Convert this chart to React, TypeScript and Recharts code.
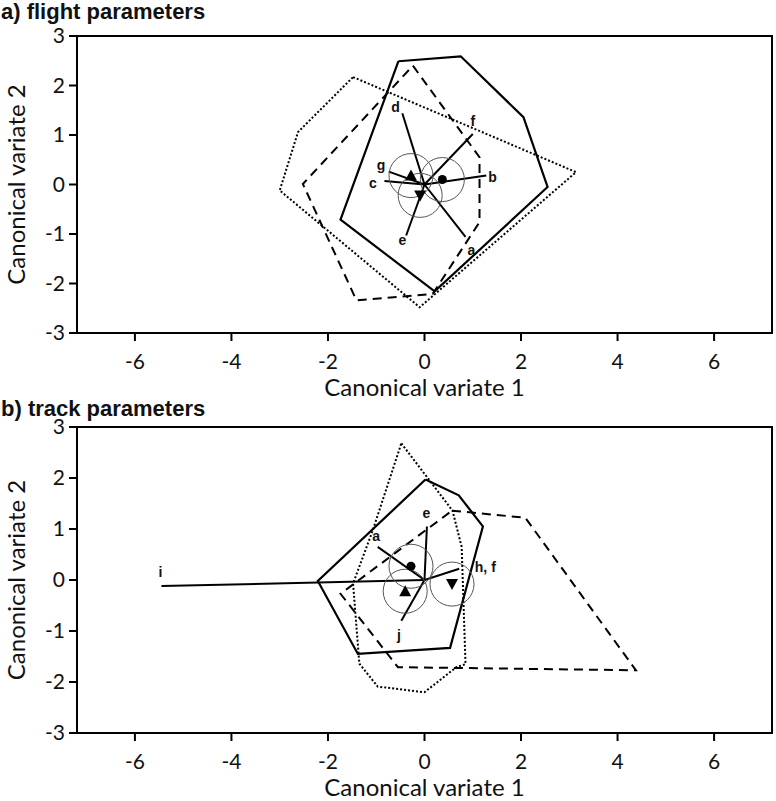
import React from "react";
import {
  ScatterChart,
  Scatter,
  XAxis,
  YAxis,
  ReferenceArea,
  ReferenceDot,
  ReferenceLine,
} from "recharts";

type Pt = { x: number; y: number };
type Lbl = { name: string; x: number; y: number };

const xTicks = [-6, -4, -2, 0, 2, 4, 6];
const yTicks = [-3, -2, -1, 0, 1, 2, 3];

// a) flight parameters
const flightSolid: Pt[] = [
  { x: -0.54, y: 2.49 },
  { x: 0.75, y: 2.59 },
  { x: 2.05, y: 1.36 },
  { x: 2.55, y: -0.05 },
  { x: 0.21, y: -2.16 },
  { x: -1.74, y: -0.71 },
];
const flightDashed: Pt[] = [
  { x: -0.24, y: 2.4 },
  { x: 1.14, y: 0.55 },
  { x: 1.14, y: -0.76 },
  { x: 0.17, y: -2.21 },
  { x: -1.41, y: -2.34 },
  { x: -2.52, y: 0.01 },
];
const flightDotted: Pt[] = [
  { x: -1.48, y: 2.17 },
  { x: 3.14, y: 0.25 },
  { x: -0.1, y: -2.48 },
  { x: -3.0, y: -0.12 },
  { x: -2.62, y: 1.06 },
];
const flightVectors: Pt[] = [
  { x: 0.85, y: -1.06 }, // a
  { x: 1.28, y: 0.18 }, // b
  { x: -0.83, y: 0.07 }, // c
  { x: -0.46, y: 1.44 }, // d
  { x: -0.38, y: -1.03 }, // e
  { x: 1.0, y: 1.02 }, // f
  { x: -0.74, y: 0.26 }, // g
];
const flightLabels: Lbl[] = [
  { name: "a", x: 0.97, y: -1.33 },
  { name: "b", x: 1.41, y: 0.16 },
  { name: "c", x: -1.07, y: 0.03 },
  { name: "d", x: -0.6, y: 1.56 },
  { name: "e", x: -0.46, y: -1.13 },
  { name: "f", x: 1.0, y: 1.29 },
  { name: "g", x: -0.9, y: 0.4 },
];
const flightCircle: Pt = { x: 0.37, y: 0.1 };
const flightUp: Pt = { x: -0.28, y: 0.18 };
const flightDown: Pt = { x: -0.09, y: -0.22 };

// b) track parameters
const trackSolid: Pt[] = [
  { x: 0.02, y: 1.97 },
  { x: 0.71, y: 1.66 },
  { x: 1.21, y: 1.05 },
  { x: 0.53, y: -1.33 },
  { x: -1.38, y: -1.45 },
  { x: -2.21, y: -0.02 },
];
const trackDashed: Pt[] = [
  { x: 0.57, y: 1.36 },
  { x: 2.09, y: 1.22 },
  { x: 4.38, y: -1.77 },
  { x: -0.55, y: -1.71 },
  { x: -1.74, y: -0.27 },
];
const trackDotted: Pt[] = [
  { x: -0.48, y: 2.68 },
  { x: 0.58, y: 1.36 },
  { x: 0.77, y: 0.65 },
  { x: 0.85, y: -1.65 },
  { x: 0.66, y: -1.71 },
  { x: 0.0, y: -2.2 },
  { x: -0.97, y: -2.09 },
  { x: -1.35, y: -1.64 },
  { x: -1.48, y: -0.07 },
  { x: -1.07, y: 0.98 },
];
const trackVectors: Pt[] = [
  { x: -0.97, y: 0.65 }, // a
  { x: 0.05, y: 1.05 }, // e
  { x: 0.72, y: 0.22 }, // h, f
  { x: -5.45, y: -0.12 }, // i
  { x: -0.48, y: -0.8 }, // j
];
const trackLabels: Lbl[] = [
  { name: "a", x: -1.0, y: 0.86 },
  { name: "e", x: 0.04, y: 1.32 },
  { name: "h, f", x: 1.26, y: 0.26 },
  { name: "i", x: -5.47, y: 0.16 },
  { name: "j", x: -0.53, y: -1.07 },
];
const trackCircle: Pt = { x: -0.28, y: 0.27 };
const trackUp: Pt = { x: -0.4, y: -0.22 };
const trackDown: Pt = { x: 0.57, y: -0.08 };

const font = "Lato, 'Open Sans', sans-serif";
const none = () => <g />;

const close = (pts: Pt[]) => [...pts, pts[0]];

function Panel({
  solid,
  dashed,
  dotted,
  vectors,
  labels,
  circle,
  up,
  down,
  top,
}: {
  solid: Pt[];
  dashed: Pt[];
  dotted: Pt[];
  vectors: Pt[];
  labels: Lbl[];
  circle: Pt;
  up: Pt;
  down: Pt;
  top: number;
}) {
  const centroids = [circle, up, down];
  return (
    <ScatterChart
      width={776}
      height={400}
      margin={{ top, right: 4, bottom: 0, left: 0 }}
    >
      <XAxis
        type="number"
        dataKey="x"
        domain={[-7.2, 7.2]}
        ticks={xTicks}
        allowDataOverflow
        height={67}
        tickSize={8}
        tickMargin={13}
        tick={{ fontSize: 21, fill: "#111", fontFamily: font }}
        axisLine={{ stroke: "#000", strokeWidth: 2 }}
        tickLine={{ stroke: "#000", strokeWidth: 2 }}
        label={{
          content: (p: any) => (
            <text
              x={p.viewBox.x + p.viewBox.width / 2}
              y={p.viewBox.y + 53}
              textAnchor="middle"
              dominantBaseline="central"
              fontSize={24}
              fontFamily={font}
              fill="#111"
            >
              Canonical variate 1
            </text>
          ),
        }}
      />
      <YAxis
        type="number"
        dataKey="y"
        domain={[-3, 3]}
        ticks={yTicks}
        allowDataOverflow
        width={77}
        tickSize={8}
        tickMargin={4}
        tick={{ fontSize: 21, fill: "#111", fontFamily: font }}
        axisLine={{ stroke: "#000", strokeWidth: 2 }}
        tickLine={{ stroke: "#000", strokeWidth: 2 }}
        label={{
          content: (p: any) => {
            const cx = p.viewBox.x + 15;
            const cy = p.viewBox.y + p.viewBox.height / 2;
            return (
              <text
                x={cx}
                y={cy}
                transform={`rotate(-90 ${cx} ${cy})`}
                textAnchor="middle"
                dominantBaseline="central"
                fontSize={24}
                fontFamily={font}
                fill="#111"
              >
                Canonical variate 2
              </text>
            );
          },
        }}
      />
      <ReferenceArea
        x1={-7.2}
        x2={7.2}
        y1={-3}
        y2={3}
        fill="none"
        stroke="#000"
        strokeWidth={2}
      />
      <Scatter
        data={close(dotted)}
        line={{ stroke: "#000", strokeWidth: 2, strokeDasharray: "2 2" }}
        shape={none}
        isAnimationActive={false}
      />
      <Scatter
        data={close(dashed)}
        line={{ stroke: "#000", strokeWidth: 2, strokeDasharray: "9 6" }}
        shape={none}
        isAnimationActive={false}
      />
      <Scatter
        data={close(solid)}
        line={{ stroke: "#000", strokeWidth: 2.2 }}
        shape={none}
        isAnimationActive={false}
      />
      {centroids.map((c, i) => (
        <ReferenceDot
          key={"ci" + i}
          x={c.x}
          y={c.y}
          r={22}
          fill="none"
          stroke="#555"
          strokeWidth={1}
        />
      ))}
      {vectors.map((v, i) => (
        <ReferenceLine
          key={"v" + i}
          segment={[
            { x: 0, y: 0 },
            { x: v.x, y: v.y },
          ]}
          stroke="#000"
          strokeWidth={2}
        />
      ))}
      <Scatter
        data={[circle]}
        isAnimationActive={false}
        shape={(p: any) => <circle cx={p.cx} cy={p.cy} r={4.5} fill="#000" />}
      />
      <Scatter
        data={[up]}
        isAnimationActive={false}
        shape={(p: any) => (
          <polygon
            points={`${p.cx},${p.cy - 6} ${p.cx + 6},${p.cy + 5} ${p.cx - 6},${p.cy + 5}`}
            fill="#000"
          />
        )}
      />
      <Scatter
        data={[down]}
        isAnimationActive={false}
        shape={(p: any) => (
          <polygon
            points={`${p.cx},${p.cy + 6} ${p.cx + 6},${p.cy - 5} ${p.cx - 6},${p.cy - 5}`}
            fill="#000"
          />
        )}
      />
      <Scatter
        data={labels}
        isAnimationActive={false}
        shape={(p: any) => (
          <text
            x={p.cx}
            y={p.cy}
            textAnchor="middle"
            dominantBaseline="central"
            fontSize={14}
            fontWeight="bold"
            fontFamily="'Liberation Sans', Arial, sans-serif"
            fill="#111"
          >
            {p.payload.name}
          </text>
        )}
      />
    </ScatterChart>
  );
}

const titleStyle: React.CSSProperties = {
  position: "absolute",
  left: 1,
  fontFamily: "'Liberation Sans', Arial, sans-serif",
  fontWeight: "bold",
  fontSize: 22,
  lineHeight: "22px",
  color: "#111",
  whiteSpace: "nowrap",
};

export default function App() {
  return (
    <div
      style={{
        position: "absolute",
        left: 0,
        top: 0,
        width: 776,
        height: 801,
        background: "#fff",
      }}
    >
      <div style={{ position: "absolute", left: 0, top: 0 }}>
        <Panel
          solid={flightSolid}
          dashed={flightDashed}
          dotted={flightDotted}
          vectors={flightVectors}
          labels={flightLabels}
          circle={flightCircle}
          up={flightUp}
          down={flightDown}
          top={36}
        />
      </div>
      <div style={{ position: "absolute", left: 0, top: 400 }}>
        <Panel
          solid={trackSolid}
          dashed={trackDashed}
          dotted={trackDotted}
          vectors={trackVectors}
          labels={trackLabels}
          circle={trackCircle}
          up={trackUp}
          down={trackDown}
          top={27}
        />
      </div>
      <div style={{ ...titleStyle, top: 1 }}>a) flight parameters</div>
      <div style={{ ...titleStyle, top: 398 }}>b) track parameters</div>
    </div>
  );
}
